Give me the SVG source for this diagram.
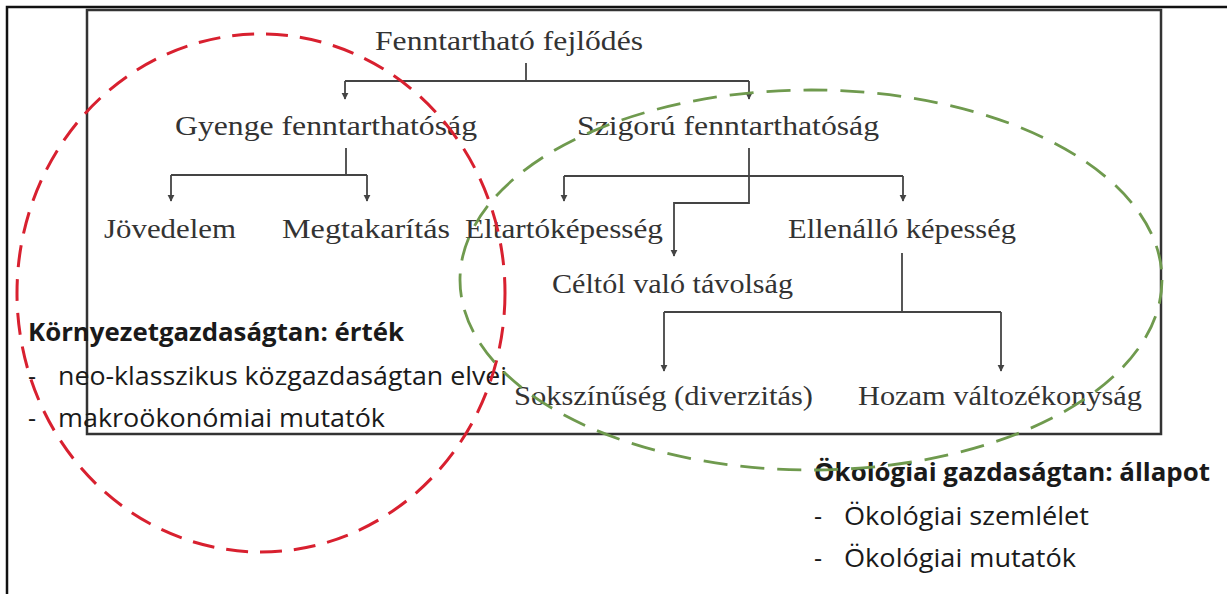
<svg xmlns="http://www.w3.org/2000/svg" width="1227" height="594" viewBox="0 0 1227 594">
<style>
.s{font-family:"Liberation Serif","Times New Roman",serif;font-size:28px;fill:#333}
.b{font-family:"Open Sans","Liberation Sans",Arial,sans-serif;font-size:25px;fill:#1a1a1a}
.bb{font-weight:bold}
.ln{fill:none;stroke:#444;stroke-width:1.8}
</style>
<defs>
<marker id="ah" viewBox="0 0 10 10" refX="9" refY="5" markerWidth="4" markerHeight="4" orient="auto" markerUnits="strokeWidth">
<path d="M0,0 L10,5 L0,10 z" fill="#444"/>
</marker>
</defs>
<rect width="1227" height="594" fill="#fff"/>
<path d="M7,594 V7 H1227" fill="none" stroke="#111" stroke-width="2.5"/>
<rect x="87" y="10" width="1074" height="424" fill="none" stroke="#333" stroke-width="2.5"/>
<g id="connectors">
<path class="ln" d="M526,63 V81"/>
<path class="ln" d="M345,81 H749"/>
<path class="ln" d="M345,81 V99" marker-end="url(#ah)"/>
<path class="ln" d="M749,81 V99" marker-end="url(#ah)"/>
<path class="ln" d="M346,148 V175"/>
<path class="ln" d="M171,175 H367"/>
<path class="ln" d="M171,175 V201" marker-end="url(#ah)"/>
<path class="ln" d="M367,175 V201" marker-end="url(#ah)"/>
<path class="ln" d="M749,148 V203 H674 V256" marker-end="url(#ah)"/>
<path class="ln" d="M564,176 H903"/>
<path class="ln" d="M564,176 V201" marker-end="url(#ah)"/>
<path class="ln" d="M903,176 V201" marker-end="url(#ah)"/>
<path class="ln" d="M902,253 V312"/>
<path class="ln" d="M664,312 H1001"/>
<path class="ln" d="M664,312 V371" marker-end="url(#ah)"/>
<path class="ln" d="M1001,312 V371" marker-end="url(#ah)"/>
</g>
<g id="n-fenntarthato"><text class="s" x="375" y="50" textLength="268" lengthAdjust="spacingAndGlyphs">Fenntartható fejlődés</text></g>
<g id="n-gyenge"><text class="s" x="175" y="135" textLength="302" lengthAdjust="spacingAndGlyphs">Gyenge fenntarthatóság</text></g>
<g id="n-szigoru"><text class="s" x="577" y="135" textLength="302" lengthAdjust="spacingAndGlyphs">Szigorú fenntarthatóság</text></g>
<g id="n-jovedelem"><text class="s" x="104" y="238" textLength="132" lengthAdjust="spacingAndGlyphs">Jövedelem</text></g>
<g id="n-megtakaritas"><text class="s" x="282" y="238" textLength="168" lengthAdjust="spacingAndGlyphs">Megtakarítás</text></g>
<g id="n-eltarto"><text class="s" x="465" y="238" textLength="198" lengthAdjust="spacingAndGlyphs">Eltartóképesség</text></g>
<g id="n-ellenallo"><text class="s" x="788" y="238" textLength="228" lengthAdjust="spacingAndGlyphs">Ellenálló képesség</text></g>
<g id="n-celtol"><text class="s" x="552" y="293" textLength="241" lengthAdjust="spacingAndGlyphs">Céltól való távolság</text></g>
<g id="n-sokszinuseg"><text class="s" x="514" y="405" textLength="299" lengthAdjust="spacingAndGlyphs">Sokszínűség (diverzitás)</text></g>
<g id="n-hozam"><text class="s" x="858" y="405" textLength="284" lengthAdjust="spacingAndGlyphs">Hozam változékonyság</text></g>
<g id="n-kornyezet">
<text class="b bb" x="28" y="341" textLength="376" lengthAdjust="spacingAndGlyphs">Környezetgazdaságtan: érték</text>
<text class="b" x="28" y="385">-</text>
<text class="b" x="58" y="385" textLength="449" lengthAdjust="spacingAndGlyphs">neo-klasszikus közgazdaságtan elvei</text>
<text class="b" x="28" y="427">-</text>
<text class="b" x="58" y="427" textLength="327" lengthAdjust="spacingAndGlyphs">makroökonómiai mutatók</text>
</g>
<g id="n-okologiai">
<text class="b bb" x="814" y="481" textLength="396" lengthAdjust="spacingAndGlyphs">Ökológiai gazdaságtan: állapot</text>
<text class="b" x="814" y="525">-</text>
<text class="b" x="844" y="525" textLength="245" lengthAdjust="spacingAndGlyphs">Ökológiai szemlélet</text>
<text class="b" x="814" y="567">-</text>
<text class="b" x="844" y="567" textLength="232" lengthAdjust="spacingAndGlyphs">Ökológiai mutatók</text>
</g>
<g id="ellipses">
<ellipse cx="261" cy="293" rx="244" ry="259" fill="none" stroke="#d8202f" stroke-width="3" stroke-dasharray="22 12"/>
<ellipse cx="811" cy="280" rx="351" ry="190" fill="none" stroke="#6f9a4e" stroke-width="2.8" stroke-dasharray="24 13"/>
</g>
</svg>
